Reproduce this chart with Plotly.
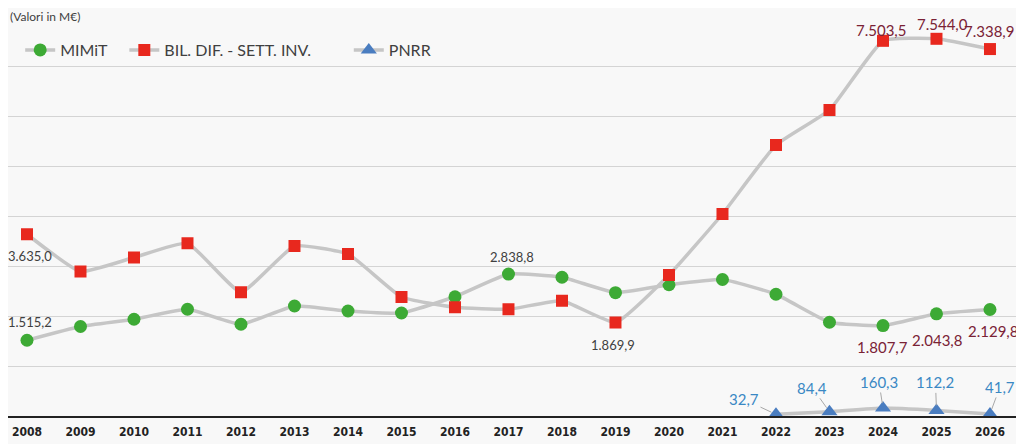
import plotly.graph_objects as go

# Dati (valori in M€)
anni = [str(a) for a in range(2008, 2027)]
mimit = [1515.2, 1790, 1935, 2135, 1835, 2200, 2100, 2060, 2385, 2838.8,
         2775, 2467, 2625, 2730, 2435, 1875, 1807.7, 2043.8, 2129.8]
bil_dif = [3635.0, 2890, 3170, 3455, 2475, 3400, 3240, 2380, 2175, 2135,
           2305, 1869.9, 2820, 4040, 5420, 6120, 7503.5, 7544.0, 7338.9]
anni_pnrr = anni[14:]
pnrr = [32.7, 84.4, 160.3, 112.2, 41.7]


def fmt_it(v):
    s = f"{v:,.1f}"
    return s.replace(",", "X").replace(".", ",").replace("X", ".")


GRIGIO_LINEA = "#C6C6C6"
SFONDO = "#F8F8F8"
NBSP = "\u00a0"

fig = go.Figure()

# nomi allungati con spazi non separabili per distanziare le voci della legenda
fig.add_trace(go.Scatter(
    x=anni, y=mimit, name="MIMiT" + NBSP * 3, mode="lines+markers",
    line=dict(color=GRIGIO_LINEA, width=3.5, shape="spline", smoothing=0.4),
    marker=dict(symbol="circle", size=13, color="#3DAA35"),
))
fig.add_trace(go.Scatter(
    x=anni, y=bil_dif, name="BIL. DIF. - SETT. INV." + NBSP * 8, mode="lines+markers",
    line=dict(color=GRIGIO_LINEA, width=3.5, shape="spline", smoothing=0.4),
    marker=dict(symbol="square", size=12, color="#E8281E"),
))
fig.add_trace(go.Scatter(
    x=anni_pnrr, y=pnrr, name="PNRR", mode="lines+markers",
    line=dict(color=GRIGIO_LINEA, width=3.5, shape="spline", smoothing=0.4),
    marker=dict(symbol="triangle-up", size=14, color="#4A7DC0"),
    cliponaxis=False,
))

# Etichette dei valori: (serie, indice, xshift, yshift, colore, dimensione)
etichette = [
    (bil_dif, 0, 3, -22, "#404040", 13),
    (mimit, 0, 3, 18, "#404040", 13),
    (mimit, 9, 4, 17, "#404040", 13),
    (bil_dif, 11, -2, -22, "#404040", 13),
    (bil_dif, 16, -2, 11, "#7A2235", 15),
    (bil_dif, 17, 6, 15, "#7A2235", 15),
    (bil_dif, 18, -1, 18, "#7A2235", 15),
    (mimit, 16, 0, -21, "#7A2235", 15),
    (mimit, 17, 1, -26, "#7A2235", 15),
    (mimit, 18, 3, -21, "#7A2235", 15),
]
for serie, i, dx, dy, col, fs in etichette:
    fig.add_annotation(
        x=i, y=serie[i], text=fmt_it(serie[i]), showarrow=False,
        xshift=dx, yshift=dy, font=dict(family="Lato", size=fs, color=col),
    )

# Etichette PNRR con linee di richiamo
offset_pnrr = [(-32, -15), (-17, -24), (-4, -26), (-1, -28), (10, -27)]
for anno, v, (ax, ay) in zip(anni_pnrr, pnrr, offset_pnrr):
    fig.add_annotation(
        x=anni.index(anno), y=v, text=fmt_it(v), showarrow=True, arrowhead=0,
        arrowwidth=1, arrowcolor="#A8A8A8", ax=ax, ay=ay, standoff=5,
        font=dict(family="Lato", size=15, color="#3A88C4"),
    )

fig.add_annotation(
    xref="paper", yref="paper", x=0.0, y=1.0, xanchor="left", yanchor="middle",
    text="(Valori in M€)", showarrow=False, bgcolor=SFONDO,
    font=dict(family="Lato", size=12, color="#404040"),
)

fig.update_layout(
    width=1024, height=444,
    margin=dict(l=0, r=8, t=8, b=36),
    paper_bgcolor=SFONDO, plot_bgcolor=SFONDO,
    showlegend=True,
    legend=dict(
        orientation="h", x=0.012, y=0.915, xanchor="left", yanchor="middle",
        font=dict(family="Lato", size=16, color="#404040"),
        bgcolor="rgba(0,0,0,0)",
    ),
    xaxis=dict(
        type="category", range=[-0.355, 18.636], showgrid=False,
        showline=True, linecolor="#222222", linewidth=2, ticklabelstandoff=4,
        tickfont=dict(family="DejaVu Sans Condensed", size=12, color="#222222", weight="bold"),
    ),
    yaxis=dict(
        range=[0, 8000], dtick=1000, showticklabels=False,
        gridcolor="#D4D4D4", gridwidth=1, zeroline=False,
    ),
)

fig.write_html("out.html")
